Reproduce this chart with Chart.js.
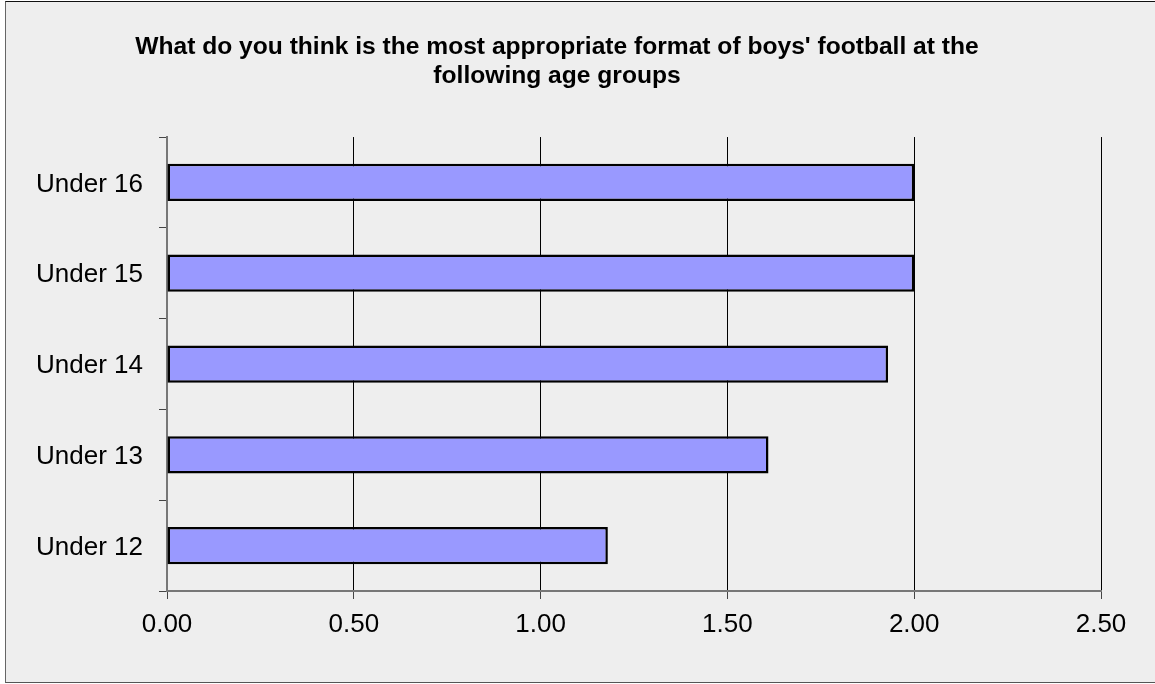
<!DOCTYPE html>
<html>
<head>
<meta charset="utf-8">
<script src="https://cdn.jsdelivr.net/npm/chart.js@4"></script>
<style>
    html, body { margin: 0; padding: 0; background: #ffffff; overflow: hidden; }
    #frame {
        position: absolute;
        left: 5px;
        top: 1px;
        width: 1149px;
        height: 680px;
        background: #eeeeee;
        border-top: 1px solid #111;
        border-left: 1px solid #666;
        border-bottom: 1px solid #555;
    }
    #chart { display: block; }
</style>
</head>
<body>
<div id="frame"><canvas id="chart" width="1149" height="680"></canvas></div>
<script>
// --- Chart data ---
const titleLines = [
    "What do you think is the most appropriate format of boys' football at the",
    "following age groups"
];
const ageGroups = ["Under 16", "Under 15", "Under 14", "Under 13", "Under 12"];
const formatScores = [2.00, 2.00, 1.93, 1.61, 1.18];
const axisMax = 2.5;
const axisStep = 0.5;

const ctx = document.getElementById("chart").getContext("2d");

new Chart(ctx, {
    type: "bar",
    data: {
        labels: ageGroups,
        datasets: [{
            data: formatScores,
            backgroundColor: "#9999ff",
            borderColor: "#000000",
            borderWidth: 2.5,
            borderSkipped: false,
            barPercentage: 0.41,
            categoryPercentage: 1
        }]
    },
    options: {
        indexAxis: "y",
        responsive: false,
        animation: false,
        // left padding + y width keep the plot at x=161 while nudging the title
        layout: { padding: { left: 7, right: 54, top: 0, bottom: 0 } },
        plugins: {
            legend: { display: false },
            tooltip: { enabled: false },
            title: {
                display: true,
                text: titleLines,
                color: "#000000",
                font: { family: "'Liberation Sans', Arial, sans-serif", size: 24.6, weight: "bold", lineHeight: 1.2 },
                padding: { top: 30, bottom: 46 }
            }
        },
        scales: {
            x: {
                min: 0,
                max: axisMax,
                afterFit: scale => { scale.height = 91; },
                ticks: {
                    stepSize: axisStep,
                    padding: 10,
                    color: "#000000",
                    font: { family: "'Liberation Sans', Arial, sans-serif", size: 26 },
                    callback: value => Number(value).toFixed(2)
                },
                grid: {
                    color: c => (c.tick && c.tick.value === 0 ? "rgba(0,0,0,0)" : "#000000"),
                    lineWidth: 1,
                    tickLength: 8,
                    tickColor: "#444444"
                },
                border: { display: true, color: "#777777", width: 2 }
            },
            y: {
                afterFit: scale => { scale.width = 154; },
                ticks: {
                    padding: 16,
                    labelOffset: 2,
                    color: "#000000",
                    font: { family: "'Liberation Sans', Arial, sans-serif", size: 26 }
                },
                grid: {
                    offset: true,
                    drawOnChartArea: false,
                    tickLength: 8,
                    tickColor: "#444444"
                },
                border: { display: true, color: "#777777", width: 2 }
            }
        }
    }
});
</script>
</body>
</html>
